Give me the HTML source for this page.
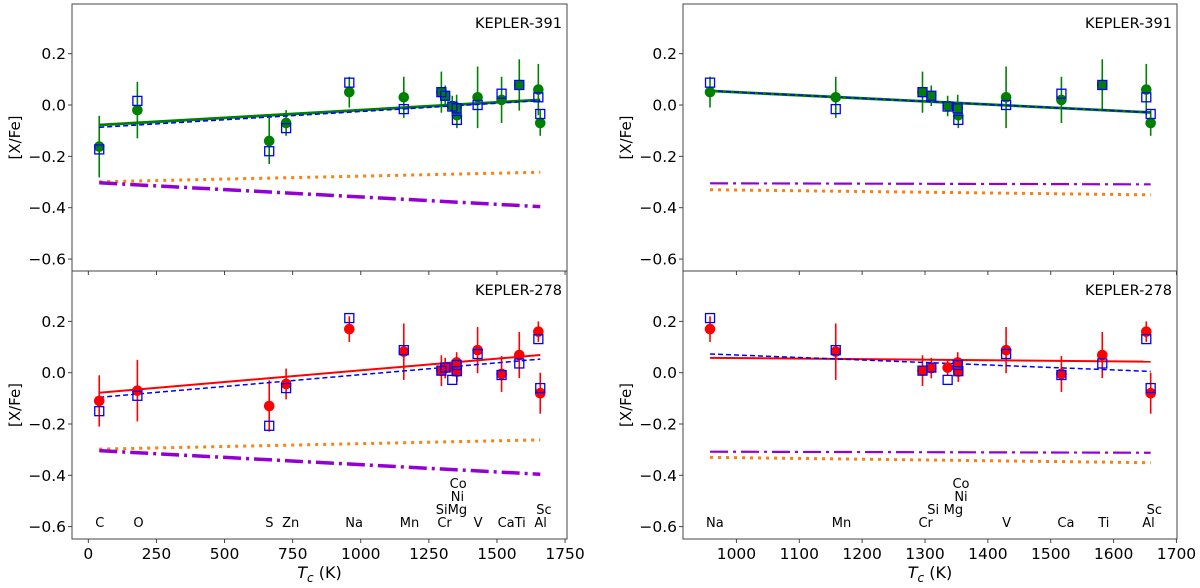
<!DOCTYPE html>
<html><head><meta charset="utf-8">
<style>
html,body{margin:0;padding:0;background:#fff;}
svg{display:block;font-family:"DejaVu Sans","Liberation Sans",sans-serif;}
</style></head>
<body>
<svg id="chart" width="1200" height="588" viewBox="0 0 1200 588" xmlns="http://www.w3.org/2000/svg"></svg>
<script>
// ---- data ----
const tc = [40,180,664,726,958,1158,1296,1310,1336,1352,1353,1429,1517,1582,1652,1659];
const k391Circle = [-0.162,-0.02,-0.14,-0.07,0.05,0.03,0.05,0.036,-0.004,-0.01,-0.04,0.03,0.02,0.078,0.06,-0.07];
const k391Square = [-0.173,0.016,-0.18,-0.09,0.087,-0.016,0.05,0.036,-0.006,-0.013,-0.058,0.0,0.044,0.078,0.03,-0.035];
const k391Err = [0.12,0.11,0.09,0.05,0.06,0.08,0.08,0.04,0.04,0.05,0.05,0.12,0.09,0.1,0.1,0.05];
const k278Circle = [-0.11,-0.07,-0.13,-0.044,0.17,0.082,0.008,0.018,0.02,0.04,0.004,0.088,-0.005,0.069,0.16,-0.08];
const k278Square = [-0.15,-0.09,-0.207,-0.06,0.213,0.088,0.008,0.02,-0.028,0.03,0.006,0.073,-0.009,0.036,0.131,-0.06];
const k278Err = [0.1,0.12,0.1,0.06,0.05,0.11,0.06,0.04,0.03,0.04,0.04,0.09,0.07,0.09,0.04,0.08];
// fit lines: [x0, y0, x1, y1]
const fitTL = {main:[40,-0.078,1659,0.02], blue:[40,-0.087,1659,0.017], orange:[40,-0.299,1659,-0.262], purple:[40,-0.303,1659,-0.396]};
const fitTR = {main:[958,0.055,1659,-0.029], blue:[958,0.055,1659,-0.029], orange:[958,-0.33,1659,-0.35], purple:[958,-0.305,1659,-0.309]};
const fitBL = {main:[40,-0.078,1659,0.069], blue:[40,-0.096,1659,0.053], orange:[40,-0.298,1659,-0.262], purple:[40,-0.304,1659,-0.396]};
const fitBR = {main:[958,0.058,1659,0.043], blue:[958,0.073,1659,0.005], orange:[958,-0.33,1659,-0.351], purple:[958,-0.308,1659,-0.312]};
const yTicks = [0.2,0.0,-0.2,-0.4,-0.6];
const yTickLabels = ["0.2","0.0","\u22120.2","\u22120.4","\u22120.6"];
const xTicksL = [0,250,500,750,1000,1250,1500,1750];
const xTicksR = [1000,1100,1200,1300,1400,1500,1600,1700];
// element labels: [text, Tc position, row]
const labelsL = [["C",40,0],["O",180,0],["S",664,0],["Zn",726,0],["Na",958,0],["Mn",1158,0],["Cr",1296,0],["SiMg",1290,1],["Ni",1345,2],["Co",1341,3],["V",1429,0],["CaTi",1517,0],["Al",1652,0],["Sc",1659,1]];
const labelsR = [["Na",958,0],["Mn",1158,0],["Cr",1296,0],["Si",1310,1],["Mg",1336,1],["Ni",1353,2],["Co",1350,3],["V",1429,0],["Ca",1517,0],["Ti",1582,0],["Al",1652,0],["Sc",1659,1]];

const NS = "http://www.w3.org/2000/svg";
const svg = document.getElementById('chart');
function mk(tag, attrs, parent){ const e=document.createElementNS(NS,tag); for(const k in attrs) e.setAttribute(k,attrs[k]); (parent||svg).appendChild(e); return e; }

function panel(p){
  const g = mk('g',{});
  
  
  const X = v => p.px0 + (v - p.d0) * p.sx;
  const Y = v => p.y0 - v * p.sy;
  const f = p.fits;
  const drawLine = (arr, color, w, dash, nm) => {
    const l = mk('line',{x1:X(arr[0]),y1:Y(arr[1]),x2:X(arr[2]),y2:Y(arr[3]),stroke:color,'stroke-width':w,'stroke-dasharray':dash||'none'},g);
    
    
  };
  drawLine(f.orange,'#ff7f0e',3,'3,5','fit-orange-dotted');
  drawLine(f.purple,'#9400d3',p.right?2.2:3.5,'18,5,3,5','fit-purple-dashdot');
  for(let i=0;i<tc.length;i++){
    if(tc[i] < p.d0) continue;
    const x=X(tc[i]);
    const eb = mk('line',{x1:x,y1:Y(p.circ[i]+p.err[i]),x2:x,y2:Y(p.circ[i]-p.err[i]),stroke:p.color,'stroke-width':1.6},g);
    
    
  }
  drawLine(f.main,p.color,p.color==='red'?2:2.8,null,'fit-main');
  drawLine(f.blue,'blue',1.5,'5,3','fit-blue-dashed');
  for(let i=0;i<tc.length;i++){
    if(tc[i] < p.d0) continue;
    const x=X(tc[i]);
    const c = mk('circle',{cx:x,cy:Y(p.circ[i]),r:5.3,fill:p.color},g);
    
    
  }
  for(let i=0;i<tc.length;i++){
    if(tc[i] < p.d0) continue;
    const x=X(tc[i]);
    const s = mk('rect',{x:x-4.5,y:Y(p.sq[i])-4.5,width:9,height:9,fill:'none',stroke:'blue','stroke-width':1.3},g);
    
    
  }
  const fr = mk('rect',{x:p.px0,y:p.top,width:p.px1-p.px0,height:p.bot-p.top,fill:'none',stroke:'#444','stroke-width':1},g);
  
  
  yTicks.forEach((v,i)=>{
    const y=Y(v);
    mk('line',{x1:p.px0-4,y1:y,x2:p.px0,y2:y,stroke:'#444','stroke-width':1},g);
    const t = mk('text',{x:p.px0-6,y:y+5.5,'text-anchor':'end','font-size':15.5,fill:'#000'},g);
    t.textContent = yTickLabels[i];
    
    
  });
  p.xt.forEach(v=>{
    const x=X(v);
    mk('line',{x1:x,y1:p.bot,x2:x,y2:p.bot+4,stroke:'#444','stroke-width':1},g);
    if(p.bottom){
      const t = mk('text',{x:x,y:p.bot+20,'text-anchor':'middle','font-size':15.5,fill:'#000'},g);
      t.textContent = v;
      
      
    }
  });
  const tt = mk('text',{x:p.px1-5,y:p.top+24,'text-anchor':'end','font-size':14.5,fill:'#000'},g);
  tt.textContent = p.title;
  
  
  const yc=(p.top+p.bot)/2;
  const yl = mk('text',{x:p.px0-52,y:yc,'text-anchor':'middle','font-size':15,fill:'#000',transform:`rotate(-90 ${p.px0-52} ${yc})`},g);
  yl.textContent='[X/Fe]';
  
  
  if(p.bottom){
    p.labels.forEach(l=>{
      const t = mk('text',{x:X(l[1])-4,y:527-l[2]*13,'text-anchor':'start','font-size':13,fill:'#000'},g);
      t.textContent=l[0];
      
      
    });
    const xt = mk('text',{x:(p.px0+p.px1)/2,y:578,'text-anchor':'middle','font-size':16,fill:'#000'},g);
    xt.innerHTML = '<tspan font-style="italic">T</tspan><tspan font-style="italic" font-size="12" dy="4">c</tspan><tspan dy="-4"> (K)</tspan>';
    
    
  }
}
const L = {px0:72,px1:567,d0:-60,sx:0.2724,xt:xTicksL,labels:labelsL};
const R = {px0:683,px1:1177,d0:915,sx:0.6286,xt:xTicksR,labels:labelsR,right:true};
panel(Object.assign({},L,{name:'panel-kepler391-left',top:4,bot:271,y0:105,sy:256.75,fits:fitTL,circ:k391Circle,sq:k391Square,err:k391Err,color:'green',title:'KEPLER-391'}));
panel(Object.assign({},R,{name:'panel-kepler391-right',top:4,bot:271,y0:105,sy:256.75,fits:fitTR,circ:k391Circle,sq:k391Square,err:k391Err,color:'green',title:'KEPLER-391'}));
panel(Object.assign({},L,{name:'panel-kepler278-left',top:271,bot:539,y0:372.7,sy:256.5,fits:fitBL,circ:k278Circle,sq:k278Square,err:k278Err,color:'red',title:'KEPLER-278',bottom:true}));
panel(Object.assign({},R,{name:'panel-kepler278-right',top:271,bot:539,y0:372.7,sy:256.5,fits:fitBR,circ:k278Circle,sq:k278Square,err:k278Err,color:'red',title:'KEPLER-278',bottom:true}));
</script>
</body></html>
